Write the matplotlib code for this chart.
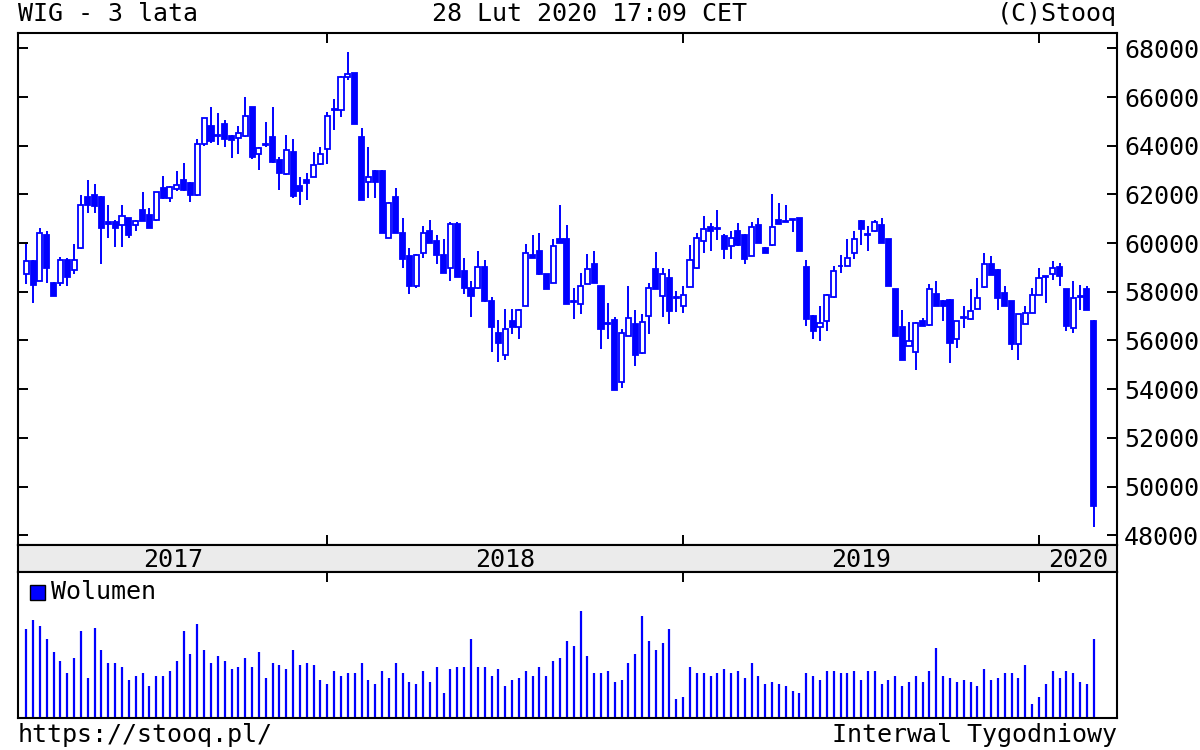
import numpy as np
import pandas as pd
import matplotlib
matplotlib.use("Agg")
import matplotlib.pyplot as plt
from matplotlib.patches import Rectangle

plt.rcParams["font.family"] = ["DejaVu Sans Mono"]
plt.rcParams["font.size"] = 18

BLUE = "#0000ff"
W, H = 1200, 750

# weekly candles, WIG index, 3 Mar 2017 .. 28 Feb 2020 (week end = Friday)
week_end = pd.date_range("2017-03-03", periods=157, freq="W-FRI")

open_ = [58740, 59260, 58450, 60350, 58380, 58380, 59290, 58880, 59810, 61910,
         61980, 61910, 60850, 60860, 60760, 61030, 60730, 61370, 61140, 60960,
         62250, 61870, 62210, 62590, 62460, 61980, 64090, 64800, 64400, 64880,
         64400, 64320, 64400, 65590, 63640, 64070, 64360, 63410, 62820, 63750,
         62360, 62590, 62730, 63250, 63860, 65500, 65450, 66810, 66990, 64360,
         62530, 62960, 62960, 60210, 61910, 60420, 59470, 58240, 59600, 60490,
         60080, 59530, 58990, 60780, 58850, 58170, 58150, 59020, 57630, 56300,
         55390, 56810, 56540, 57430, 59530, 59670, 58720, 58380, 60150, 60150,
         57620, 57490, 58310, 59130, 58240, 56700, 56840, 54300, 56200, 56680,
         55480, 57020, 58920, 57830, 58580, 57780, 57430, 58200, 58990, 60080,
         60650, 60620, 60280, 59870, 60490, 60350, 59470, 60760, 59810, 59940,
         60960, 60910, 60980, 61030, 59020, 57020, 56540, 56790, 57770, 59070,
         59060, 59600, 60890, 60360, 60490, 60760, 60150, 58110, 56570, 55790,
         55540, 56810, 56650, 57930, 57620, 57680, 56080, 56950, 56870, 57310,
         58190, 59140, 58910, 57960, 57620, 55860, 56680, 57140, 57860, 58650,
         58740, 59010, 58120, 56520, 57830, 58120, 56820]

high = [59970, 59300, 60600, 60510, 58420, 59420, 59370, 59980, 61980, 62590,
        62410, 61950, 61570, 60960, 61550, 61050, 60950, 62080, 61440, 62100,
        62770, 62350, 62960, 63300, 62500, 64270, 65150, 65590, 65340, 65040,
        64430, 64800, 66020, 65600, 63950, 64980, 65590, 63550, 64430, 64270,
        62720, 62870, 63750, 63950, 65380, 65930, 66880, 67860, 66990, 64730,
        63950, 63000, 63000, 61700, 62280, 61030, 59810, 59550, 60690, 60960,
        60350, 60150, 60850, 60850, 59370, 58450, 59670, 59290, 57790, 56840,
        57290, 57290, 57300, 59970, 60320, 60420, 58750, 60150, 61570, 60760,
        58170, 58790, 59560, 59670, 58250, 57560, 56950, 56480, 58240, 57250,
        57090, 58380, 59640, 58960, 58920, 58040, 58240, 59920, 60420, 61100,
        60820, 61370, 60380, 60510, 60820, 60380, 60860, 61030, 59850, 62010,
        61640, 61550, 60990, 61050, 59290, 57030, 57430, 57900, 59060, 59530,
        60150, 60490, 60960, 60690, 60960, 61030, 60150, 58110, 57250, 56750,
        56750, 56920, 58310, 58450, 57650, 57700, 56800, 57410, 58130, 58570,
        59600, 59460, 58920, 58230, 57630, 57080, 57410, 58160, 58980, 58660,
        59260, 59190, 58130, 58460, 58290, 58230, 56830]

low = [58310, 57560, 58450, 58360, 57830, 58240, 58240, 58720, 59750, 61230,
       61230, 59150, 60190, 59830, 59830, 60190, 60490, 60890, 60600, 60900,
       61800, 61680, 62120, 62120, 61680, 61950, 64000, 64120, 64050, 63950,
       63500, 63680, 64350, 63460, 63000, 63950, 63300, 62190, 62800, 61870,
       61570, 61780, 62700, 63200, 63250, 64660, 65180, 66700, 64900, 61780,
       61840, 61840, 60400, 60200, 60400, 58990, 57900, 58170, 59400, 60000,
       59130, 58790, 58450, 58600, 57900, 56950, 58100, 57600, 55520, 55110,
       55180, 56270, 56070, 57400, 59400, 58700, 58100, 58350, 60000, 57490,
       56880, 57090, 58300, 58380, 55660, 56070, 53950, 54030, 56200, 54940,
       55450, 56270, 58100, 56950, 56680, 57150, 57110, 58200, 58950, 59600,
       59670, 60110, 59330, 59330, 59900, 59130, 59450, 60000, 59600, 59900,
       60780, 60880, 60460, 59670, 56610, 56070, 55970, 56400, 57750, 58790,
       59050, 59330, 59940, 59670, 60450, 60000, 58240, 56180, 55180, 55780,
       54800, 56600, 56600, 57420, 56800, 55080, 55700, 56520, 56850, 57300,
       58150, 58700, 57270, 57400, 55630, 55180, 56680, 57130, 57850, 57540,
       58500, 58230, 56410, 56310, 57270, 57260, 48350]

close = [59260, 58280, 60420, 58990, 57830, 59290, 58610, 59290, 61550, 61570,
         61510, 60620, 60800, 60620, 61100, 60350, 60920, 60890, 60620, 62080,
         61870, 62310, 62400, 62190, 61980, 64060, 65140, 64180, 64450, 64290,
         64230, 64540, 65220, 63550, 63910, 64050, 63340, 62900, 63820, 61950,
         62140, 62460, 63210, 63650, 65220, 65450, 66810, 66950, 64910, 61780,
         62730, 62530, 60420, 61640, 60420, 59330, 58240, 59530, 60420, 60010,
         59530, 58790, 60780, 58610, 58170, 57830, 59020, 57630, 56540, 55890,
         56480, 56540, 57250, 59600, 59400, 58720, 58110, 59870, 60010, 57490,
         57580, 58240, 58920, 58380, 56480, 56660, 53980, 56300, 56910, 55390,
         56750, 58150, 58110, 58750, 57220, 57750, 57870, 59290, 60200, 60570,
         60510, 60580, 59740, 60190, 59940, 59330, 60650, 60010, 59600, 60650,
         60780, 60880, 60950, 59670, 56880, 56400, 56720, 57870, 58850, 59040,
         59370, 60150, 60560, 60340, 60850, 60010, 58240, 56200, 55180, 55970,
         56720, 56610, 58110, 57430, 57410, 55900, 56790, 56910, 57230, 57750,
         59140, 58710, 57750, 57410, 55860, 57070, 57140, 57860, 58570, 58620,
         58980, 58640, 56590, 57750, 57800, 57270, 49210]

# weekly volume (relative units)
volume = [88, 96.7, 90.3, 77.3, 64.7, 56, 43.3, 58.3, 86, 39,
          88.3, 66.7, 54, 54, 49.7, 36.7, 41, 43.3, 30.3, 41,
          41, 45.3, 56, 86, 62.7, 92.7, 66.7, 54, 60.3, 56,
          47.7, 49.7, 58.3, 49.7, 64.7, 39, 54, 52, 47.7, 66.7,
          52, 54, 52, 36.7, 32.7, 45.3, 41, 43.3, 43.3, 54,
          36.7, 32.7, 45.3, 39, 54, 43.3, 34.7, 32.7, 45.3, 34.7,
          49.7, 24, 47.7, 49.7, 49.7, 77.3, 49.7, 49.7, 41, 47.7,
          30.3, 36.7, 39, 45.3, 41, 49.7, 41, 56, 58.3, 75.3,
          71, 105.3, 60.3, 43.3, 43.3, 45.3, 34.7, 36.7, 54, 62.7,
          101, 75.3, 66.7, 73.3, 88, 17.3, 19.7, 49.7, 43.3, 43.3,
          41, 43.3, 47.7, 43.3, 45.3, 39, 54, 41, 32.7, 34.7,
          32.7, 30.3, 26, 24, 43.3, 41, 36.7, 45.3, 45.3, 43.3,
          43.3, 45.3, 36.7, 45.3, 45.3, 32.7, 36.7, 41, 30.3, 34.7,
          41, 34.7, 45.3, 69, 41, 39, 34.7, 36.7, 34.7, 30.3,
          47.7, 36.7, 39, 43.3, 43.3, 39, 51.7, 13, 19.7, 32.7,
          45.3, 39, 45.3, 43.3, 34.7, 32.7, 77.7]

price_ticks = list(range(48000, 68001, 2000))

n = len(week_end)
assert all(len(a) == n for a in (open_, high, low, close, volume))
x = np.arange(n)
o, h, l, c = map(np.array, (open_, high, low, close))


def box(left, top, right, bottom):
    return [left / W, 1 - bottom / H, (right - left) / W, (bottom - top) / H]


fig = plt.figure(figsize=(W / 100, H / 100), dpi=100)
ax = fig.add_axes(box(18, 33, 1117, 545))
band = fig.add_axes(box(18, 545, 1117, 572))
axv = fig.add_axes(box(18, 572, 1117, 718))

xlim = (-1.2, 159.4)

# candles
ax.vlines(x, l, h, color=BLUE, lw=1.4, zorder=2)
body_w = 0.74
for i in range(n):
    up = c[i] >= o[i]
    bottom = min(o[i], c[i])
    height = max(abs(c[i] - o[i]), 1)
    ax.add_patch(Rectangle((x[i] - body_w / 2, bottom), body_w, height,
                           facecolor="white" if up else BLUE,
                           edgecolor=BLUE, lw=1.3, zorder=3))

ax.set_xlim(*xlim)
ax.set_ylim(47600, 68630)
ax.set_yticks(price_ticks)
ax.set_yticklabels([str(t) for t in price_ticks])
ax.tick_params(axis="y", direction="in", left=True, right=True,
               labelleft=False, labelright=True, length=7, width=1.4, pad=5)

# year boundaries (first week of each year)
years = week_end.year
starts = [i for i in range(1, n) if years[i] != years[i - 1]]
ax.set_xticks(starts)
ax.tick_params(axis="x", direction="in", top=True, bottom=True,
               labelbottom=False, length=7, width=1.4)

# year band
band.set_facecolor("#ebebeb")
band.set_xlim(*xlim)
band.set_ylim(0, 1)
band.set_xticks([])
band.set_yticks([])
edges = [xlim[0]] + starts + [xlim[1]]
for k, yr in enumerate(sorted(set(years))):
    band.text((edges[k] + edges[k + 1]) / 2, 0.45, str(yr),
              ha="center", va="center")

# volume
axv.vlines(x, 0, volume, color=BLUE, lw=1.6)
axv.set_xlim(*xlim)
axv.set_ylim(-1.5, 144.5)
axv.set_yticks([])
axv.set_xticks(starts)
axv.tick_params(axis="x", direction="in", top=True, bottom=False,
                labelbottom=False, length=7, width=1.4)
fig.patches.append(Rectangle((30 / W, 1 - 600 / H), 15 / W, 15 / H,
                             transform=fig.transFigure, facecolor=BLUE,
                             edgecolor="black", lw=1))
fig.text(51 / W, 1 - 592 / H, "Wolumen", ha="left", va="center")

for a in (ax, band, axv):
    for s in a.spines.values():
        s.set_linewidth(1.5)
        s.set_color("black")

# header / footer
fig.text(18 / W, 1 - 14 / H, "WIG - 3 lata", ha="left", va="center")
fig.text(590 / W, 1 - 14 / H, "28 Lut 2020 17:09 CET", ha="center", va="center")
fig.text(1117 / W, 1 - 14 / H, "(C)Stooq", ha="right", va="center")
fig.text(18 / W, 1 - 735 / H, "https://stooq.pl/", ha="left", va="center")
fig.text(1117 / W, 1 - 735 / H, "Interwal Tygodniowy", ha="right", va="center")

fig.savefig("out.png", dpi=100)
